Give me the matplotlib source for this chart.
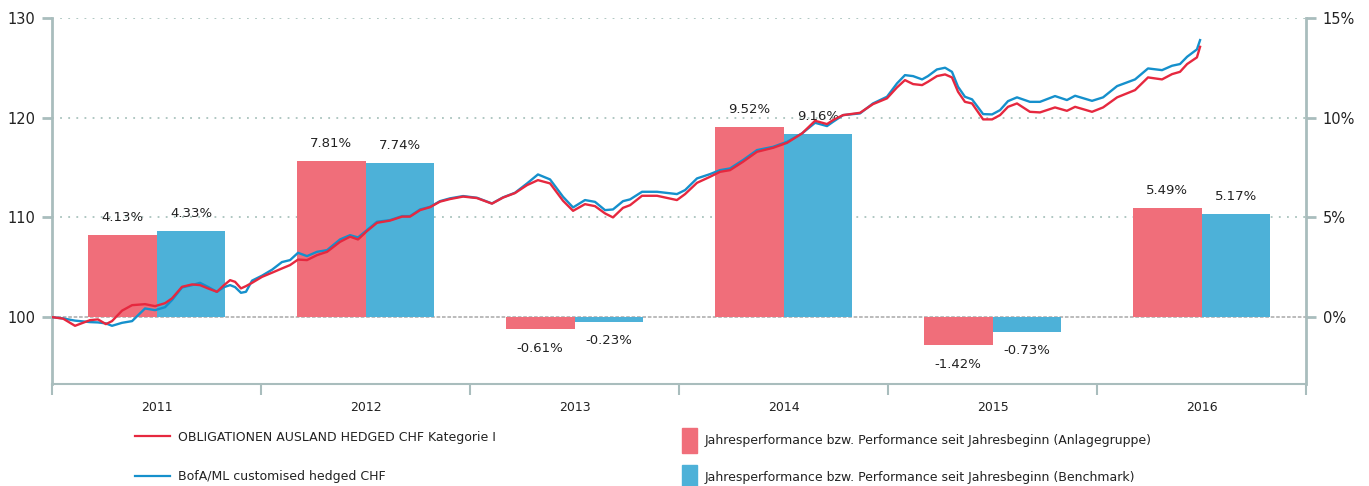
import matplotlib.pyplot as plt
from matplotlib.lines import Line2D
from matplotlib.patches import Patch

# Data
years = [2011, 2012, 2013, 2014, 2015, 2016]
perf_fund = [4.13, 7.81, -0.61, 9.52, -1.42, 5.49]   # % (Anlagegruppe)
perf_bench = [4.33, 7.74, -0.23, 9.16, -0.73, 5.17]  # % (Benchmark)

# indexed performance (start = 100), time in decimal years
t_line = [2011.000, 2011.053, 2011.110, 2011.182, 2011.220, 2011.258, 2011.287, 2011.335,
          2011.383, 2011.445, 2011.493, 2011.541, 2011.574, 2011.622, 2011.670, 2011.708,
          2011.746, 2011.789, 2011.823, 2011.852, 2011.876, 2011.904, 2011.928, 2011.957,
          2012.005, 2012.053, 2012.100, 2012.139, 2012.177, 2012.220, 2012.268, 2012.316,
          2012.378, 2012.426, 2012.464, 2012.507, 2012.555, 2012.617, 2012.675, 2012.713,
          2012.761, 2012.809, 2012.856, 2012.904, 2012.967,
          2013.033, 2013.105, 2013.158, 2013.215, 2013.273, 2013.325, 2013.383, 2013.445,
          2013.493, 2013.550, 2013.598, 2013.646, 2013.684, 2013.732, 2013.766, 2013.823,
          2013.895, 2013.990,
          2014.029, 2014.086, 2014.148, 2014.196, 2014.244, 2014.306, 2014.373, 2014.450,
          2014.517, 2014.589, 2014.651, 2014.708, 2014.737, 2014.785, 2014.866, 2014.928,
          2014.995,
          2015.043, 2015.081, 2015.120, 2015.163, 2015.191, 2015.234, 2015.273, 2015.306,
          2015.335, 2015.368, 2015.402, 2015.455, 2015.498, 2015.536, 2015.574, 2015.617,
          2015.679, 2015.727, 2015.799, 2015.856, 2015.895, 2015.976,
          2016.029, 2016.096, 2016.182, 2016.244, 2016.311, 2016.359, 2016.397, 2016.431,
          2016.478, 2016.493]

idx_fund = [100.00, 99.85, 99.13, 99.70, 99.77, 99.30, 99.60, 100.65, 101.20, 101.30, 101.10,
            101.40, 101.88, 103.04, 103.28, 103.21, 102.88, 102.54, 103.21, 103.71, 103.54,
            102.88, 103.11, 103.44,
            104.04, 104.46, 104.88, 105.22, 105.77, 105.72, 106.22, 106.55, 107.55, 108.07,
            107.79, 108.63, 109.46, 109.68, 110.08, 110.08, 110.73, 111.03, 111.58, 111.84,
            112.09,
            111.94, 111.38, 111.99, 112.44, 113.24, 113.74, 113.41, 111.67, 110.66, 111.33,
            111.13, 110.40, 110.00, 110.96, 111.23, 112.17, 112.17, 111.74,
            112.34, 113.47, 114.07, 114.57, 114.74, 115.58, 116.58, 116.98, 117.48, 118.43,
            119.69, 119.36, 119.76, 120.26, 120.49, 121.36, 121.94,
            123.04, 123.77, 123.37, 123.27, 123.60, 124.17, 124.34, 124.04, 122.60, 121.59,
            121.43, 119.83, 119.83, 120.26, 121.09, 121.43, 120.59, 120.53, 121.03, 120.69,
            121.09, 120.59,
            121.03, 122.04, 122.77, 124.04, 123.84, 124.37, 124.60, 125.38, 126.05, 127.11]

idx_bench = [100.00, 99.87, 99.65, 99.50, 99.47, 99.37, 99.13, 99.43, 99.60, 100.87, 100.70,
             101.00, 101.71, 102.98, 103.21, 103.44, 103.04, 102.54, 103.01, 103.21, 103.01,
             102.44, 102.54, 103.66,
             104.16, 104.76, 105.52, 105.72, 106.45, 106.12, 106.55, 106.72, 107.79, 108.22,
             107.99, 108.73, 109.56, 109.73, 110.13, 110.13, 110.80, 111.06, 111.63, 111.91,
             112.14,
             111.97, 111.40, 112.01, 112.47, 113.41, 114.31, 113.81, 112.07, 111.00, 111.74,
             111.56, 110.73, 110.80, 111.63, 111.81, 112.57, 112.57, 112.34,
             112.74, 113.91, 114.34, 114.74, 114.91, 115.75, 116.75, 117.08, 117.58, 118.43,
             119.49, 119.16, 119.59, 120.26, 120.43, 121.43, 122.10,
             123.44, 124.27, 124.17, 123.84, 124.17, 124.84, 125.01, 124.60, 123.10, 122.10,
             121.84, 120.36, 120.33, 120.76, 121.66, 122.04, 121.59, 121.59, 122.17, 121.77,
             122.20, 121.69,
             122.04, 123.17, 123.84, 124.94, 124.77, 125.21, 125.38, 126.11, 126.85, 127.78]

label_fund = "OBLIGATIONEN AUSLAND HEDGED CHF Kategorie I"
label_bench = "BofA/ML customised hedged CHF"
label_bar_fund = "Jahresperformance bzw. Performance seit Jahresbeginn (Anlagegruppe)"
label_bar_bench = "Jahresperformance bzw. Performance seit Jahresbeginn (Benchmark)"

# Colours
RED_BAR = "#f06e7a"
BLUE_BAR = "#4db1d8"
RED_LINE = "#e6283f"
BLUE_LINE = "#1590cc"
AXIS_COL = "#a9bdbd"
GRID_COL = "#a9c3bd"
TEXT_COL = "#222222"

plt.rcParams['font.family'] = ['DejaVu Sans']

fig = plt.figure(figsize=(13.69, 4.86), dpi=100)
ax = fig.add_axes([0.038, 0.21, 0.916, 0.753])
ax2 = ax.twinx()
ax.set_zorder(ax2.get_zorder() + 1)
ax.patch.set_visible(False)

# Bars (right axis, %)
bw = 0.33
xs = [y + 0.5 for y in years]
ax2.bar([x - bw / 2 for x in xs], perf_fund, width=bw, color=RED_BAR, zorder=2)
ax2.bar([x + bw / 2 for x in xs], perf_bench, width=bw, color=BLUE_BAR, zorder=2)

for vals, off in ((perf_fund, -bw / 2), (perf_bench, bw / 2)):
    for x, v in zip(xs, vals):
        if v >= 0:
            ax2.annotate(f"{v:.2f}%", (x + off, v), xytext=(0, 8), textcoords='offset points',
                         ha='center', va='bottom', fontsize=9.5, color=TEXT_COL, zorder=3)
        else:
            ax2.annotate(f"{v:.2f}%", (x + off, v), xytext=(0, -9), textcoords='offset points',
                         ha='center', va='top', fontsize=9.5, color=TEXT_COL, zorder=3)

# Grid on bar axis, below bars
for g in (5, 10, 15):
    ax2.axhline(g, color=GRID_COL, lw=1.3, ls=(0, (1, 3.5)), zorder=0)
ax2.axhline(0, color="#b5b5b5", lw=1.3, ls=(0, (2, 1)), zorder=1)

# Lines (left axis, index)
ax.plot(t_line, idx_bench, color=BLUE_LINE, lw=1.7, zorder=4)
ax.plot(t_line, idx_fund, color=RED_LINE, lw=1.7, zorder=5)

# Scales
ax.set_xlim(2011, 2017)
ax.set_ylim(93.3, 130)
ax2.set_ylim((93.3 - 100) / 2, 15)

ax.set_yticks([100, 110, 120, 130])
ax2.set_yticks([0, 5, 10, 15])
ax2.set_yticklabels(["0%", "5%", "10%", "15%"])

ax.set_xticks(list(range(2011, 2018)))
ax.set_xticklabels([])
ax.set_xticks(xs, minor=True)
ax.set_xticklabels([str(y) for y in years], minor=True)
ax.tick_params(axis='x', which='major', length=8, width=1.5, color=AXIS_COL)
ax.tick_params(axis='x', which='minor', length=0, pad=12, labelsize=9, labelcolor=TEXT_COL)
ax.tick_params(axis='y', length=7, width=2, color=AXIS_COL, pad=5, labelsize=10.5,
               labelcolor=TEXT_COL)
ax2.tick_params(axis='y', length=7, width=2, color=AXIS_COL, pad=5, labelsize=10.5,
                labelcolor=TEXT_COL)

for s in ('top', 'right'):
    ax.spines[s].set_visible(False)
ax.spines['left'].set_color(AXIS_COL)
ax.spines['left'].set_linewidth(2)
ax.spines['bottom'].set_color(AXIS_COL)
ax.spines['bottom'].set_linewidth(1.5)
for s in ('top', 'left', 'bottom'):
    ax2.spines[s].set_visible(False)
ax2.spines['right'].set_color(AXIS_COL)
ax2.spines['right'].set_linewidth(2)

# Legends
line_handles = [Line2D([], [], color=RED_LINE, lw=1.6), Line2D([], [], color=BLUE_LINE, lw=1.6)]
fig.legend(line_handles, [label_fund, label_bench], loc='upper left',
           bbox_to_anchor=(0.0986, 0.114), frameon=False, fontsize=9, borderpad=0,
           borderaxespad=0, handlelength=2.8, handletextpad=0.65, labelspacing=2.15,
           labelcolor=TEXT_COL)
bar_handles = [Patch(color=RED_BAR), Patch(color=BLUE_BAR)]
fig.legend(bar_handles, [label_bar_fund, label_bar_bench], loc='upper left',
           bbox_to_anchor=(0.498, 0.12), frameon=False, fontsize=9, borderpad=0,
           borderaxespad=0, handlelength=1.2, handleheight=2.7, handletextpad=0.65,
           labelspacing=1.0, labelcolor=TEXT_COL)

fig.savefig("out.png", dpi=100)
